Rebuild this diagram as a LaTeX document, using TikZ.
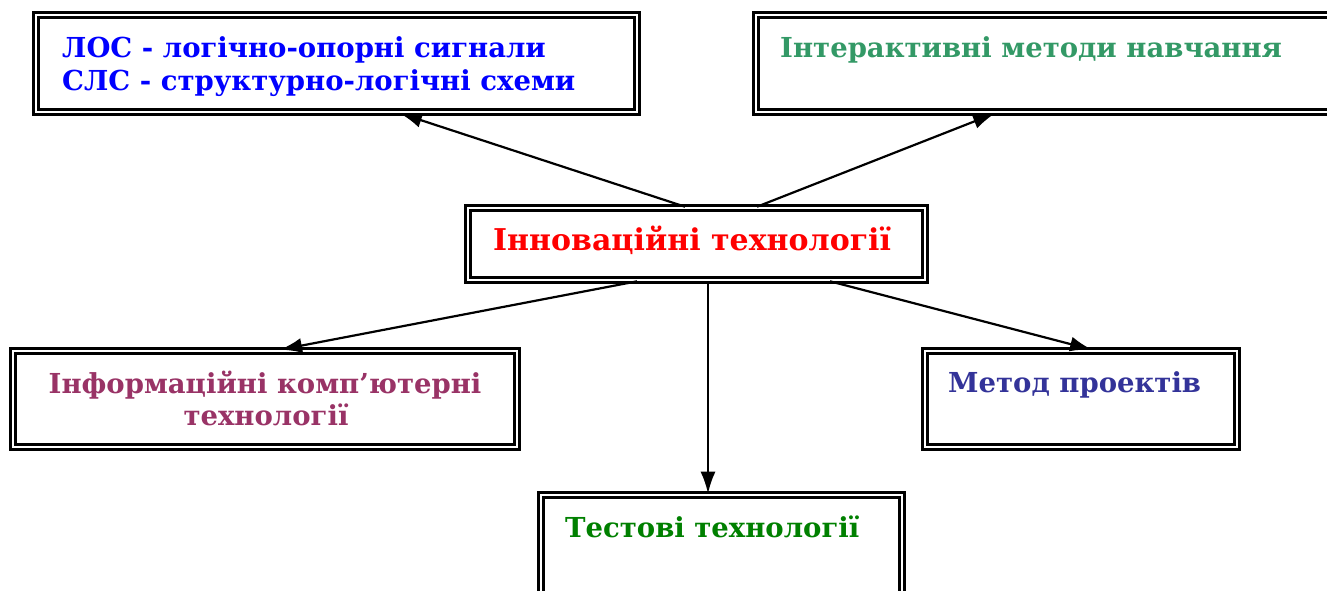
\documentclass[tikz,border=0pt]{standalone}
\usepackage{fontspec}
\setmainfont{DejaVu Serif}
\usetikzlibrary{arrows.meta}
\definecolor{cblue}{RGB}{0,0,255}
\definecolor{cteal}{RGB}{51,153,102}
\definecolor{cred}{RGB}{255,0,0}
\definecolor{cplum}{RGB}{153,51,102}
\definecolor{cindigo}{RGB}{51,51,153}
\definecolor{cgreen}{RGB}{0,128,0}
\tikzset{
  box/.style={draw=black, line width=2.6pt, double=white, double distance=2pt, rectangle, inner sep=0pt},
  lbl/.style={anchor=base west, inner sep=0pt, font=\bfseries\fontsize{27.5}{32}\selectfont},
  arr/.style={-{Latex[length=22pt,width=15pt]}, line width=2.2pt}
}
\begin{document}
\begin{tikzpicture}[x=1pt,y=-1pt]
\useasboundingbox (0,0) rectangle (1327,590);
% boxes
\node[box, minimum width=601pt, minimum height=97pt] (los) at (336.5,63.5) {};
\node[box, minimum width=576pt, minimum height=97pt] (inter) at (1044,63.5) {};
\node[box, minimum width=457pt, minimum height=72pt] (c) at (696.5,244) {};
\node[box, minimum width=504pt, minimum height=96pt] (info) at (265,399) {};
\node[box, minimum width=312pt, minimum height=96pt] (method) at (1081,399) {};
\node[box, minimum width=361pt, minimum height=100pt] (tests) at (721.5,545) {};
% texts
\node[lbl, text=cblue] (t1a) at (62,57) {ЛОС - логічно-опорні сигнали};
\node[lbl, text=cblue] (t1b) at (62,90) {СЛС - структурно-логічні схеми};
\node[lbl, text=cteal] (t2) at (780,57) {Інтерактивні методи навчання};
\node[lbl, text=cred, font=\bfseries\fontsize{30}{34}\selectfont] (t3) at (493,250) {Інноваційні технології};
\node[lbl, text=cplum, anchor=base] (t4a) at (265,393) {Інформаційні комп’ютерні};
\node[lbl, text=cplum, anchor=base] (t4b) at (266,425) {технології};
\node[lbl, text=cindigo] (t5) at (948,392) {Метод проектів};
\node[lbl, text=cgreen] (t6) at (565,537) {Тестові технології};
% arrows
\draw[arr] ([xshift=-11.5pt]c.north) -- ([xshift=63.5pt]los.south);
\draw[arr] ([xshift=60.5pt]c.north) -- ([xshift=-49pt]inter.south);
\draw[arr] ([xshift=-59.5pt]c.south) -- ([xshift=15pt]info.north);
\draw[arr] ([xshift=11.5pt]c.south) -- ([xshift=-13.5pt]tests.north);
\draw[arr] ([xshift=133.5pt]c.south) -- ([xshift=11pt]method.north);
\end{tikzpicture}
\end{document}
